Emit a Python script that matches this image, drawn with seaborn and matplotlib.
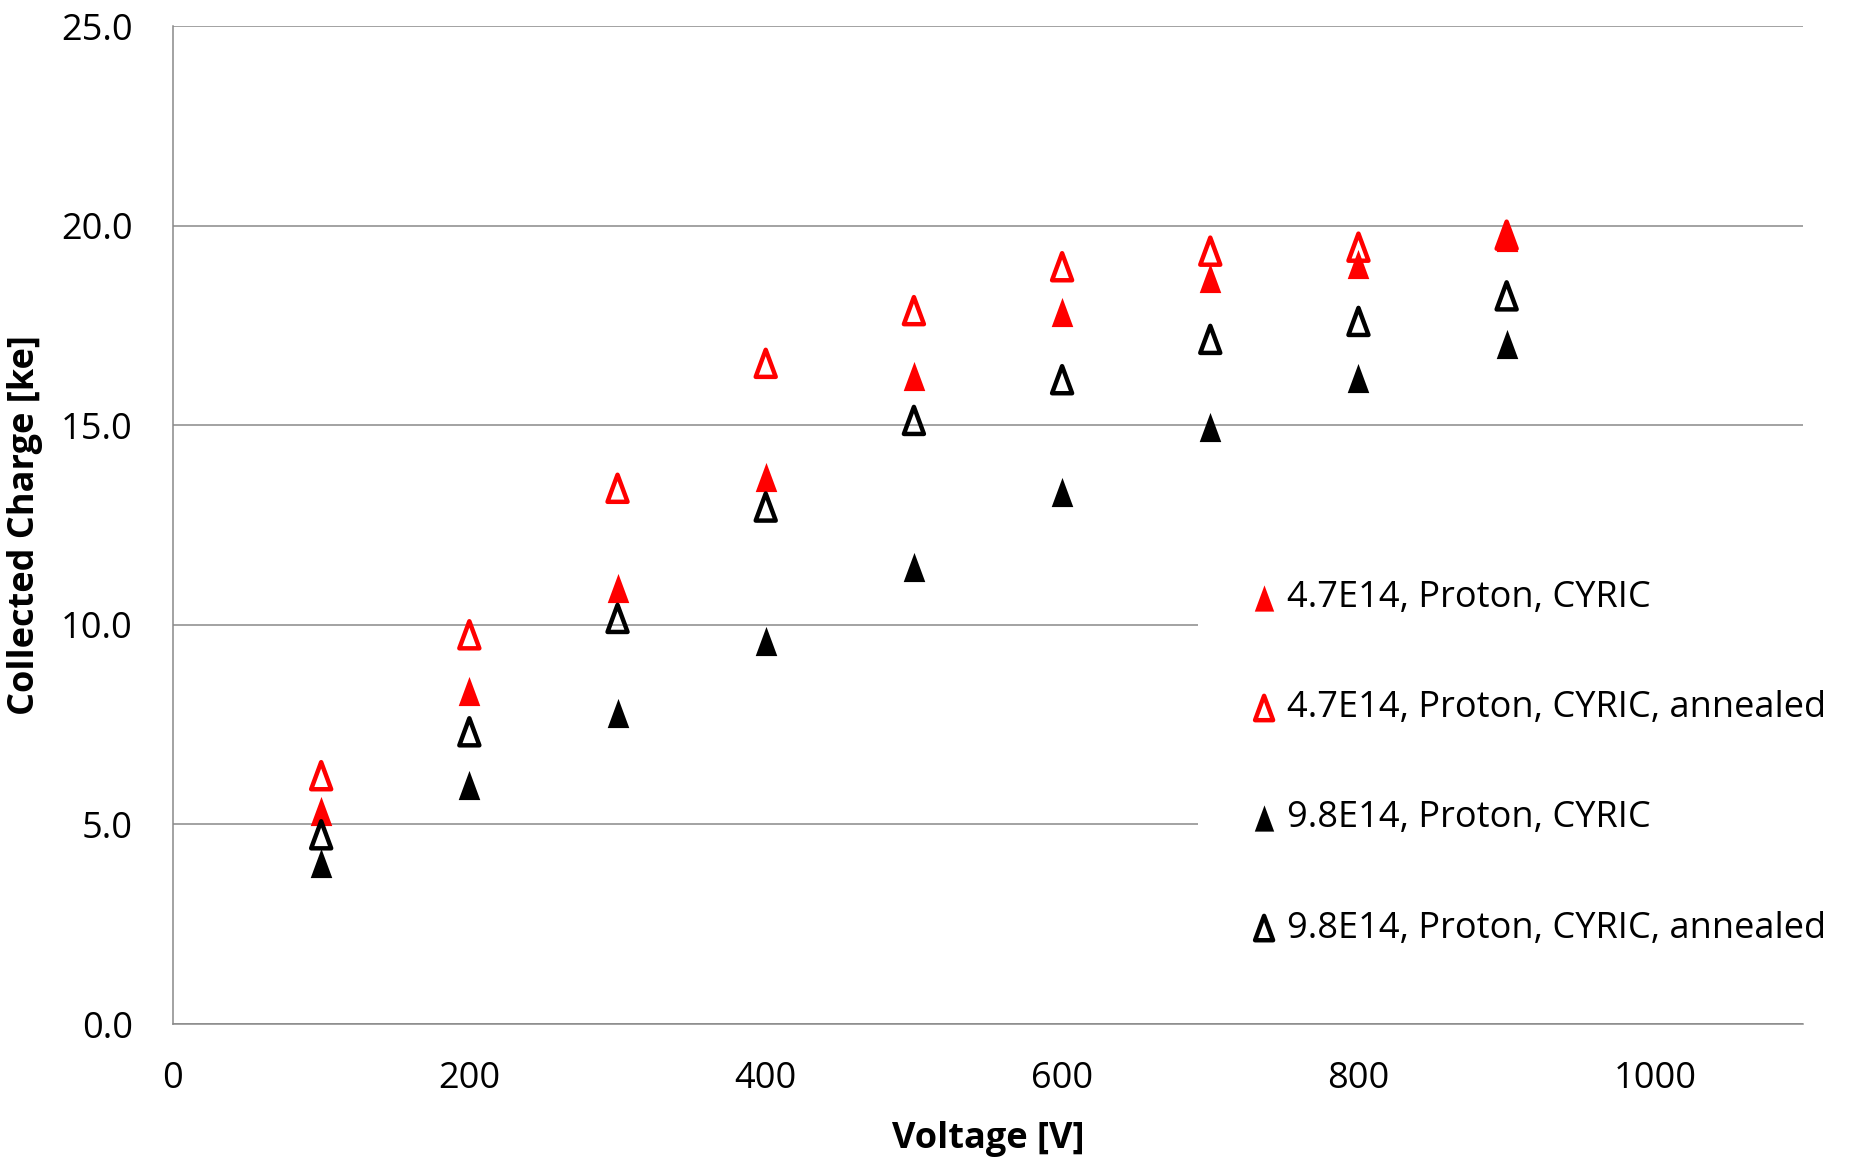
import matplotlib
matplotlib.use("Agg")
import matplotlib.pyplot as plt
import seaborn as sns
import pandas as pd
from matplotlib.path import Path
from matplotlib.ticker import MultipleLocator, FormatStrFormatter

# Bias voltages [V]
voltage = [100, 200, 300, 400, 500, 600, 700, 800, 900]

# Collected charge [ke] per sample
charge_47_cyric = [5.33, 8.35, 10.93, 13.69, 16.24, 17.84, 18.70, 19.05, 19.71]
charge_47_cyric_annealed = [6.22, 9.75, 13.42, 16.55, 17.87, 18.97, 19.36, 19.46, 19.76]
charge_98_cyric = [4.03, 5.98, 7.79, 9.60, 11.44, 13.32, 14.95, 16.17, 17.03]
charge_98_cyric_annealed = [4.74, 7.32, 10.16, 12.95, 15.12, 16.14, 17.15, 17.60, 18.24]

labels = [
    "4.7E14, Proton, CYRIC",
    "4.7E14, Proton, CYRIC, annealed",
    "9.8E14, Proton, CYRIC",
    "9.8E14, Proton, CYRIC, annealed",
]
colors = ["#FF0000", "#FF0000", "#000000", "#000000"]
filled = [True, False, True, False]
series = [charge_47_cyric, charge_47_cyric_annealed, charge_98_cyric, charge_98_cyric_annealed]

sns.set_style("white")
plt.rcParams["font.family"] = ["Open Sans", "DejaVu Sans"]
plt.rcParams["text.color"] = "black"
plt.rcParams["axes.labelcolor"] = "black"

GRID = "#898989"
# narrow upward triangle marker (closed outline)
tri = Path([(0, 1), (-0.74, -1), (0.74, -1), (0, 1)],
           [Path.MOVETO, Path.LINETO, Path.LINETO, Path.CLOSEPOLY])

fig = plt.figure(figsize=(18.54, 11.61), dpi=100)
ax = fig.add_axes([0.0933, 0.118, 0.8792, 0.8596])

for vals, lab, col, fill in zip(series, labels, colors, filled):
    df = pd.DataFrame({"Voltage": voltage, "Charge": vals})
    if fill:
        sns.scatterplot(data=df, x="Voltage", y="Charge", ax=ax, marker=tri,
                        s=21 ** 2, color=col, linewidth=0, label=lab, zorder=3)
    else:
        sns.scatterplot(data=df, x="Voltage", y="Charge", ax=ax, marker=tri,
                        s=19.5 ** 2, color=col, facecolor="none", edgecolor=col,
                        linewidth=3.2, label=lab, zorder=3)
        ax.collections[-1].set_facecolor("none")
        ax.collections[-1].set_joinstyle("round")

ax.set_xlim(0, 1100)
ax.set_ylim(0, 25)
ax.xaxis.set_major_locator(MultipleLocator(200))
ax.xaxis.set_minor_locator(MultipleLocator(40))
ax.yaxis.set_major_locator(MultipleLocator(5))
ax.yaxis.set_major_formatter(FormatStrFormatter("%.1f"))

ax.grid(axis="y", color=GRID, linewidth=1.1, zorder=0)
ax.grid(axis="x", visible=False)
ax.set_axisbelow(True)

for side in ["top", "right"]:
    ax.spines[side].set_visible(False)
for side in ["left", "bottom"]:
    ax.spines[side].set_color(GRID)
    ax.spines[side].set_linewidth(1.1)

ax.tick_params(axis="x", which="major", direction="inout", length=19, width=1.1,
               color=GRID, labelsize=26, pad=17, labelcolor="black")
ax.tick_params(axis="x", which="minor", direction="out", length=7.7, width=1.1, color=GRID)
ax.tick_params(axis="y", which="both", length=0, labelsize=26, pad=29, labelcolor="black")

ax.set_xlabel("Voltage [V]", fontsize=26, fontweight="bold", color="black")
ax.set_ylabel("Collected Charge [ke]", fontsize=26, fontweight="bold", color="black")
ax.xaxis.set_label_coords(0.5, -0.097)
ax.yaxis.set_label_coords(-0.080, 0.5)

leg = ax.legend(loc="upper left", bbox_to_anchor=(1198 / 1854, 1 - 527 / 1161),
                bbox_transform=fig.transFigure, borderaxespad=0, frameon=True,
                fontsize=26, markerscale=0.9, handlelength=0.7, handletextpad=0.29,
                labelspacing=2.05, borderpad=1.48, scatterpoints=1, labelcolor="black")
leg.get_frame().set_facecolor("white")
leg.get_frame().set_edgecolor("none")
leg.get_frame().set_alpha(1)
leg.get_frame().set_boxstyle("square", pad=0)
leg.set_zorder(5)

fig.savefig("out.png", dpi=100)
